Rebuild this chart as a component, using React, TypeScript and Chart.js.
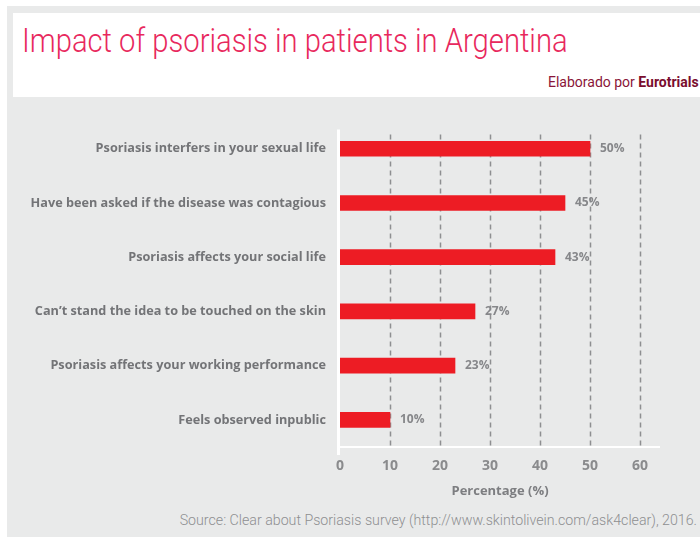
import React, { useEffect, useRef } from "react";
import { Chart, registerables } from "chart.js";

Chart.register(...registerables);

const categories: string[] = [
  "Psoriasis interfers in your sexual life",
  "Have been asked if the disease was contagious",
  "Psoriasis affects your social life",
  "Can\u2019t stand the idea to be touched on the skin",
  "Psoriasis affects your working performance",
  "Feels observed inpublic",
];
const values: number[] = [50, 45, 43, 27, 23, 10];
const valueLabels: string[] = ["50%", "45%", "43%", "27%", "23%", "10%"];
const xTicks: number[] = [0, 10, 20, 30, 40, 50, 60];

const TITLE = "Impact of psoriasis in patients in Argentina";
const SOURCE = "Source: Clear about Psoriasis survey (http://www.skintolivein.com/ask4clear), 2016.";
const FONT = "'Open Sans', 'DejaVu Sans', sans-serif";

const decorPlugin = {
  id: "decor",
  beforeDatasetsDraw(chart: any) {
    const { ctx, chartArea, scales } = chart;
    const xs = scales.x;
    ctx.save();
    ctx.strokeStyle = "#8e8f91";
    ctx.lineWidth = 1.5;
    ctx.setLineDash([5, 4]);
    xTicks.forEach((t) => {
      if (t === 0) return;
      const px = Math.round(xs.getPixelForValue(t)) + 0.5;
      ctx.beginPath();
      ctx.moveTo(px, chartArea.top + 13);
      ctx.lineTo(px, chartArea.bottom);
      ctx.stroke();
    });
    ctx.setLineDash([]);
    ctx.strokeStyle = "#ffffff";
    ctx.lineWidth = 2;
    ctx.beginPath();
    ctx.moveTo(chartArea.left - 2, chartArea.bottom);
    ctx.lineTo(chartArea.right, chartArea.bottom);
    ctx.stroke();
    ctx.lineWidth = 3;
    ctx.beginPath();
    ctx.moveTo(chartArea.left - 1.5, chartArea.top + 8);
    ctx.lineTo(chartArea.left - 1.5, chartArea.bottom + 8);
    ctx.stroke();
    ctx.restore();
  },
  afterDatasetsDraw(chart: any) {
    const { ctx } = chart;
    const meta = chart.getDatasetMeta(0);
    ctx.save();
    ctx.fillStyle = "#86878a";
    ctx.font = `bold 12px ${FONT}`;
    ctx.textAlign = "left";
    ctx.textBaseline = "middle";
    meta.data.forEach((bar: any, i: number) => {
      ctx.fillText(valueLabels[i], bar.x + 10, bar.y);
    });
    ctx.restore();
  },
};

function BarChart() {
  const ref = useRef<HTMLCanvasElement | null>(null);
  useEffect(() => {
    if (!ref.current) return;
    const chart = new Chart(ref.current, {
      type: "bar",
      data: {
        labels: categories,
        datasets: [
          {
            data: values,
            backgroundColor: "#ed1c24",
            barThickness: 15,
          },
        ],
      },
      options: {
        indexAxis: "y",
        responsive: false,
        animation: false,
        layout: { padding: { left: 0, right: 40, top: 20, bottom: 0 } },
        plugins: { legend: { display: false }, tooltip: { enabled: false } },
        scales: {
          x: {
            type: "linear",
            min: 0,
            max: 64,
            grid: { display: false, drawTicks: false },
            border: { display: false },
            ticks: {
              stepSize: 10,
              includeBounds: false,
              color: "#8a8b8d",
              padding: 11,
              font: { family: FONT, size: 14, weight: "bold" },
            },
            title: {
              display: true,
              text: "Percentage (%)",
              color: "#7d7e81",
              padding: { top: 0, bottom: 8 },
              font: { family: FONT, size: 13, weight: "bold" },
            },
            afterFit: (s: any) => {
              s.height = 60;
            },
          },
          y: {
            type: "category",
            grid: { display: false, drawTicks: false },
            border: { display: false },
            ticks: {
              color: "#737477",
              padding: 14,
              font: { family: FONT, size: 12.7, weight: "bold" },
            },
            afterFit: (s: any) => {
              s.width = 332;
            },
          },
        },
      },
      plugins: [decorPlugin],
    });
    return () => chart.destroy();
  }, []);
  return (
    <canvas
      ref={ref}
      width={692}
      height={407}
      style={{ position: "absolute", left: 8, top: 100, width: 692, height: 407 }}
    />
  );
}

export default function App() {
  return (
    <div
      style={{
        position: "fixed",
        left: 0,
        top: 0,
        width: 700,
        height: 538,
        background: "#ffffff",
        overflow: "hidden",
      }}
    >
      <div style={{ position: "absolute", left: 7, top: 6, width: 700, height: 531, background: "#e9eaea" }} />
      <div style={{ position: "absolute", left: 13, top: 13, width: 700, height: 84, background: "#ffffff" }} />
      <div
        style={{
          position: "absolute",
          left: 22,
          top: 21,
          fontFamily: "Roboto, sans-serif",
          fontWeight: 300,
          fontSize: 33,
          lineHeight: "40px",
          color: "#e8285d",
          whiteSpace: "nowrap",
          transformOrigin: "left top",
          transform: "scaleX(0.885)",
        }}
      >
        {TITLE}
      </div>
      <div
        style={{
          position: "absolute",
          left: 548,
          top: 73,
          fontFamily: "Roboto, sans-serif",
          fontSize: 14,
          lineHeight: "18px",
          color: "#8a1538",
          whiteSpace: "nowrap",
        }}
      >
        Elaborado por <span style={{ fontWeight: 700, color: "#7a0d2e" }}>Eurotrials</span>
      </div>
      <BarChart />
      <div
        style={{
          position: "absolute",
          right: 3,
          top: 511,
          fontFamily: "Roboto, sans-serif",
          fontWeight: 300,
          fontSize: 14.2,
          lineHeight: "18px",
          color: "#8e8f91",
          whiteSpace: "nowrap",
        }}
      >
        {SOURCE}
      </div>
    </div>
  );
}
